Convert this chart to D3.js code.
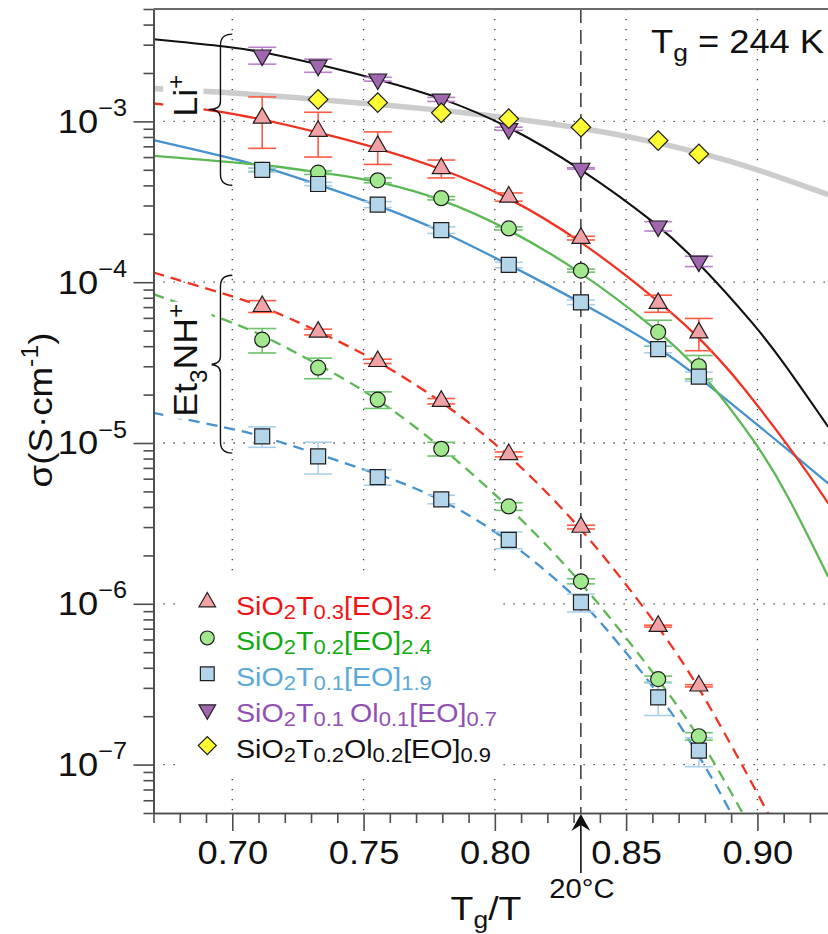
<!DOCTYPE html>
<html>
<head>
<meta charset="utf-8">
<script src="https://cdn.jsdelivr.net/npm/d3@7/dist/d3.min.js"></script>
<style>
  html, body { margin: 0; padding: 0; background: #fff; }
  svg { display: block; }
  text { font-family: "Liberation Sans", Arial, Helvetica, sans-serif; fill: #111; white-space: pre; }
</style>
</head>
<body>
<svg id="chart" width="828" height="934"></svg>
<script>
// ---------------- data ----------------
const Tg = 244;           // glass transition temperature, K
const roomT = 273 + 20;   // 20 °C reference, K

// measurement temperatures expressed as Tg/T (70 … 5 °C)
const tgOverT = [0.7114, 0.7327, 0.7554, 0.7796, 0.8053, 0.8328, 0.8622, 0.8777];

// Li+ conducting hybrids, σ in S/cm
const liT3    = [1.05e-3, 8.7e-4, 7.0e-4, 5.1e-4, 3.39e-4, 1.88e-4, 7.4e-5, 4.85e-5];
const liT3Err = [3.7e-4, 2.7e-4, 1.6e-4, 6.5e-5, 2.0e-5, 5e-6, 9e-6, 1.1e-5];
const liT2    = [5.0e-4, 4.8e-4, 4.3e-4, 3.33e-4, 2.16e-4, 1.18e-4, 4.9e-5, 3.0e-5];
const liT2Err = [1.2e-5, 1.2e-5, 1.5e-5, 8e-6, 5e-6, 2.5e-6, 9e-6, 5e-6];
const liT1    = [4.99e-4, 4.08e-4, 3.04e-4, 2.11e-4, 1.28e-4, 7.5e-5, 3.84e-5, 2.59e-5];
const liT1Err = [1.5e-5, 1e-5, 1.3e-5, 1e-5, 5e-6, 2.5e-6, 2e-6, 1.7e-6];
const liOl1    = [2.58e-3, 2.23e-3, 1.83e-3, 1.37e-3, 9.0e-4, 5.1e-4, 2.23e-4, 1.35e-4];
const liOl1Err = [3.1e-4, 2.1e-4, 5e-5, 4e-5, 2e-5, 5e-6, 1.5e-5, 1e-5];
const liOl2    = [null, 1.37e-3, 1.31e-3, 1.13e-3, 1.04e-3, 9.2e-4, 7.6e-4, 6.28e-4];

// Et3NH+ conducting hybrids, σ in S/cm
const etT3    = [7.08e-5, 4.9e-5, 3.22e-5, 1.82e-5, 8.5e-6, 3.0e-6, 7.26e-7, 3.09e-7];
const etT3Err = [6e-6, 2e-6, 1e-6, 7e-7, 3e-7, 8e-8, 1e-8, 5e-9];
const etT2    = [4.39e-5, 2.94e-5, 1.86e-5, 9.2e-6, 4.03e-6, 1.38e-6, 3.4e-7, 1.5e-7];
const etT2Err = [7.6e-6, 4.3e-6, 2.2e-6, 9e-7, 2.2e-7, 5e-8, 1.5e-8, 8e-9];
const etT1    = [1.10e-5, 8.26e-6, 6.14e-6, 4.46e-6, 2.5e-6, 1.02e-6, 2.62e-7, 1.22e-7];
const etT1Err = [1.6e-6, 1.85e-6, 6.8e-7, 2.7e-7, 3e-7, 1.3e-7, 6e-8, 2.5e-8];

// fitted VTF curves, [Tg/T, σ]
const fitOl1 = [[0.67,3.244e-3],[0.70,2.905e-3],[0.7116,2.705e-3],[0.7372,2.182e-3],[0.7554,1.83e-3],[0.7795,1.414e-3],[0.805,9.47e-4],[0.8328,5.12e-4],[0.8621,2.294e-4],[0.8777,1.332e-4],[0.8998,5.25e-5],[0.9094,3.27e-5],[0.927,1.259e-5]];
const fitOl2 = [[0.67,1.60e-3],[0.70,1.51e-3],[0.73,1.38e-3],[0.76,1.26e-3],[0.79,1.13e-3],[0.82,9.8e-4],[0.85,8.2e-4],[0.88,6.3e-4],[0.90,5.05e-4],[0.927,3.5e-4]];
const fitLiT3 = [[0.67,1.292e-3],[0.70,1.146e-3],[0.7372,8.21e-4],[0.7555,6.81e-4],[0.7795,5.12e-4],[0.805,3.426e-4],[0.8328,1.825e-4],[0.8621,7.73e-5],[0.8777,4.55e-5],[0.8857,3.27e-5],[0.8927,2.457e-5],[0.9151,8.2e-6],[0.927,4.21e-6]];
const fitLiT2 = [[0.67,6.1e-4],[0.70,5.58e-4],[0.7116,5.38e-4],[0.7372,4.74e-4],[0.7555,4.25e-4],[0.7795,3.33e-4],[0.805,2.166e-4],[0.8328,1.171e-4],[0.8621,5.03e-5],[0.8777,2.96e-5],[0.8999,9.93e-6],[0.9111,4.94e-6],[0.927,1.47e-6]];
const fitLiT1 = [[0.67,7.64e-4],[0.70,5.90e-4],[0.7116,5.26e-4],[0.7372,3.825e-4],[0.7555,3.012e-4],[0.7795,2.105e-4],[0.805,1.294e-4],[0.8328,7.51e-5],[0.8621,4.0e-5],[0.8777,2.577e-5],[0.9149,8.2e-6],[0.927,5.6e-6]];
const fitEtT3 = [[0.67,1.149e-4],[0.70,8.18e-5],[0.7116,7.09e-5],[0.7328,4.96e-5],[0.7554,3.25e-5],[0.7795,1.845e-5],[0.8051,8.64e-6],[0.8328,3.04e-6],[0.8621,7.36e-7],[0.8777,3.12e-7],[0.9042,4.96e-8],[0.9125,2.73e-8]];
const fitEtT2 = [[0.67,8.42e-5],[0.70,5.64e-5],[0.7116,4.68e-5],[0.7328,3.09e-5],[0.7554,1.9e-5],[0.7795,9.55e-6],[0.8051,4.10e-6],[0.8328,1.402e-6],[0.8621,3.45e-7],[0.8777,1.52e-7],[0.8946,4.96e-8],[0.9029,2.73e-8]];
const fitEtT1 = [[0.67,1.539e-5],[0.70,1.227e-5],[0.7116,1.102e-5],[0.7328,8.52e-6],[0.7554,6.40e-6],[0.7640,5.73e-6],[0.7830,4.21e-6],[0.8059,2.49e-6],[0.8332,1.027e-6],[0.8414,7.36e-7],[0.8624,2.83e-7],[0.8778,1.145e-7],[0.8903,4.96e-8],[0.8980,2.73e-8]];

// axis ticks
const xMajorTicks = [0.70, 0.75, 0.80, 0.85, 0.90];
const yMajorTicks = [1e-7, 1e-6, 1e-5, 1e-4, 1e-3];

// ---------------- styles ----------------
const C = {
  red:    { line: "#ee3322", fill: "#f2a2a5", err: "#ff5a44", text: "#f01414" },
  green:  { line: "#5cb854", fill: "#a3e88f", err: "#6cc46a", text: "#14aa14" },
  blue:   { line: "#4592cf", fill: "#b3d5ea", err: "#a9d0ea", text: "#5aa9d6" },
  purple: { line: "#111111", fill: "#a066b0", err: "#bb80cc", text: "#9150b4" },
  yellow: { line: "#cccccc", fill: "#ffff33", err: "#cccccc", text: "#111111" }
};
const SYM = {
  up:      { type: d3.symbolTriangle, size: 140, rot: 0 },
  circle:  { type: d3.symbolCircle,   size: 177, rot: 0 },
  square:  { type: d3.symbolSquare,   size: 225, rot: 0 },
  down:    { type: d3.symbolTriangle, size: 140, rot: 180 },
  diamond: { type: d3.symbolSquare,   size: 190, rot: 45 }
};

// ---------------- layout ----------------
const svg = d3.select("#chart");
const plot = { left: 153.5, right: 828.3, top: 9, bottom: 813 };
const x = d3.scaleLinear().domain([0.67, 0.927]).range([plot.left, plot.right]);
const y = d3.scaleLog().domain([5e-8, 5e-3]).range([plot.bottom, plot.top]);

svg.append("defs").append("clipPath").attr("id", "plotClip")
  .append("rect").attr("x", plot.left).attr("y", plot.top)
  .attr("width", plot.right - plot.left).attr("height", plot.bottom - plot.top);

// dotted grid
const grid = svg.append("g").attr("stroke", "#3a3a3a").attr("stroke-width", 1.3)
  .attr("stroke-dasharray", "1.3,8.7");
grid.selectAll("line.gx").data(xMajorTicks).join("line").attr("class", "gx")
  .attr("x1", d => x(d)).attr("x2", d => x(d)).attr("y1", plot.top).attr("y2", plot.bottom);
grid.selectAll("line.gy").data(yMajorTicks).join("line").attr("class", "gy")
  .attr("y1", d => y(d)).attr("y2", d => y(d)).attr("x1", plot.left).attr("x2", plot.right);

// legend background (hides the grid behind it)
const legend = { x: 176, y: 576, w: 322, h: 196, rowTop: 602, rowStep: 35.9, markX: 207.3, textX: 236 };
svg.append("rect").attr("x", legend.x).attr("y", legend.y).attr("width", legend.w).attr("height", legend.h)
  .attr("fill", "#fff");

// fitted curves
const curveG = svg.append("g").attr("clip-path", "url(#plotClip)").attr("fill", "none");
const lineGen = d3.line().x(d => x(d[0])).y(d => y(d[1])).curve(d3.curveBasis);
const curves = [
  { data: fitOl2, color: C.yellow.line, width: 5.5, dash: null },
  { data: fitEtT1, color: C.blue.line, width: 2.3, dash: "11,7" },
  { data: fitEtT2, color: C.green.line, width: 2.3, dash: "11,7" },
  { data: fitEtT3, color: C.red.line, width: 2.3, dash: "11,7" },
  { data: fitLiT1, color: C.blue.line, width: 2.3, dash: null },
  { data: fitLiT2, color: C.green.line, width: 2.3, dash: null },
  { data: fitLiT3, color: C.red.line, width: 2.3, dash: null },
  { data: fitOl1, color: C.purple.line, width: 2.1, dash: null }
];
curveG.selectAll("path").data(curves).join("path")
  .attr("d", d => lineGen(d.data)).attr("stroke", d => d.color)
  .attr("stroke-width", d => d.width).attr("stroke-dasharray", d => d.dash);

// 20 °C reference line
const refX = Tg / roomT;
svg.append("line").attr("x1", x(refX)).attr("x2", x(refX)).attr("y1", plot.top).attr("y2", plot.bottom)
  .attr("stroke", "#1a1a1a").attr("stroke-width", 1.3).attr("stroke-dasharray", "14,7");

// helper: rich text with sub/superscripts
function rich(textSel, parts, size, smallSize, subDy, supDy) {
  let shift = 0;
  parts.forEach(([s, kind]) => {
    const target = kind === "sub" ? subDy : kind === "sup" ? supDy : 0;
    textSel.append("tspan").attr("dy", target - shift)
      .attr("font-size", kind ? smallSize : size).text(s);
    shift = target;
  });
}

// curly braces grouping the two cation families
const braces = [
  { top: 3.49e-3, mid: 1.186e-3, bot: 4.01e-4, label: [["Li"], ["+", "sup"]], at: [196.7, 116.7] },
  { top: 1.104e-4, mid: 3.08e-5, bot: 8.65e-6, label: [["Et"], ["3", "sub"], ["NH"], ["+", "sup"]], at: [196.7, 416.7] }
];
const braceTip = 0.70, braceSpine = 0.6955, bracePoint = 0.6910;
const braceG = svg.append("g");
braces.forEach(b => {
  const xt = x(braceTip), xs = x(braceSpine), xp = x(bracePoint);
  const yT = y(b.top), yM = y(b.mid), yB = y(b.bot);
  const p = `M${xt},${yT} Q${xs},${yT} ${xs},${yT + 11} L${xs},${yM - 8} Q${xs},${yM} ${xp},${yM}` +
            ` Q${xs},${yM} ${xs},${yM + 8} L${xs},${yB - 11} Q${xs},${yB} ${xt},${yB}`;
  braceG.append("path").attr("d", p).attr("fill", "none").attr("stroke", "#111").attr("stroke-width", 1.4);
  const g = braceG.append("g").attr("transform", `translate(${b.at[0]},${b.at[1]}) rotate(-90) scale(1.05,1)`);
  const bg = g.append("rect").attr("fill", "#fff");
  const t = g.append("text").attr("x", 0).attr("y", 0);
  rich(t, b.label, 34, 23, 10, -13);
  const bb = t.node().getBBox();
  bg.attr("x", bb.x - 2).attr("y", bb.y).attr("width", bb.width + 4).attr("height", bb.height);
});

// series (points + error bars)
const series = [
  { v: liT3, e: liT3Err, c: C.red, s: SYM.up },
  { v: liT2, e: liT2Err, c: C.green, s: SYM.circle },
  { v: liT1, e: liT1Err, c: C.blue, s: SYM.square },
  { v: etT3, e: etT3Err, c: C.red, s: SYM.up },
  { v: etT2, e: etT2Err, c: C.green, s: SYM.circle },
  { v: etT1, e: etT1Err, c: C.blue, s: SYM.square },
  { v: liOl1, e: liOl1Err, c: C.purple, s: SYM.down },
  { v: liOl2, e: null, c: C.yellow, s: SYM.diamond }
];
const pts = s => s.v.map((v, i) => ({ t: tgOverT[i], v, e: s.e ? s.e[i] : 0 })).filter(d => d.v != null);

const errG = svg.append("g").attr("fill", "none").attr("stroke-width", 1.6);
series.filter(s => s.e).forEach(s => {
  const g = errG.append("g").attr("stroke", s.c.err);
  const d = pts(s);
  const cap = 14;
  g.selectAll("line.v").data(d).join("line").attr("class", "v")
    .attr("x1", p => x(p.t)).attr("x2", p => x(p.t))
    .attr("y1", p => y(p.v + p.e)).attr("y2", p => y(Math.max(p.v - p.e, 1e-12)));
  g.selectAll("line.hi").data(d).join("line").attr("class", "hi")
    .attr("x1", p => x(p.t) - cap).attr("x2", p => x(p.t) + cap)
    .attr("y1", p => y(p.v + p.e)).attr("y2", p => y(p.v + p.e));
  g.selectAll("line.lo").data(d).join("line").attr("class", "lo")
    .attr("x1", p => x(p.t) - cap).attr("x2", p => x(p.t) + cap)
    .attr("y1", p => y(p.v - p.e)).attr("y2", p => y(p.v - p.e));
});

const markG = svg.append("g");
series.forEach(s => {
  const sym = d3.symbol().type(s.s.type).size(s.s.size);
  markG.append("g").selectAll("path").data(pts(s)).join("path")
    .attr("d", sym)
    .attr("transform", p => `translate(${x(p.t)},${y(p.v)}) rotate(${s.s.rot})`)
    .attr("fill", s.c.fill).attr("stroke", "#1e1e1e").attr("stroke-width", 1.2);
});

// axes
const axisColor = "#4d4d4d";
function styleAxis(g) {
  g.select(".domain").attr("stroke", axisColor).attr("stroke-width", 1.7);
  g.selectAll(".tick line").attr("stroke", axisColor).attr("stroke-width", 1.6);
}
const yMinorTicks = [];
for (let e = -8; e <= -3; e++) for (let k = 2; k <= 9; k++) {
  const v = k * Math.pow(10, e);
  if (v >= 5e-8 && v <= 5e-3) yMinorTicks.push(v);
}
const xMinorTicks = d3.range(67, 93).filter(d => d % 5 !== 0).map(d => d / 100);

svg.append("g").attr("transform", `translate(${plot.left},0)`)
  .call(d3.axisLeft(y).tickValues(yMinorTicks).tickSize(10).tickSizeOuter(0).tickFormat(""))
  .call(styleAxis);
svg.append("g").attr("transform", `translate(${plot.left},0)`)
  .call(d3.axisLeft(y).tickValues(yMajorTicks).tickSize(20).tickSizeOuter(0).tickFormat(""))
  .call(styleAxis);
svg.append("g").attr("transform", `translate(0,${plot.bottom})`)
  .call(d3.axisBottom(x).tickValues(xMinorTicks).tickSize(10).tickSizeOuter(0).tickFormat(""))
  .call(styleAxis);
const xAx = svg.append("g").attr("transform", `translate(0,${plot.bottom})`)
  .call(d3.axisBottom(x).tickValues(xMajorTicks).tickSize(18).tickSizeOuter(0)
    .tickPadding(10).tickFormat(d3.format(".2f")))
  .call(styleAxis);
xAx.selectAll(".tick text").attr("font-size", 33).attr("fill", "#111")
  .attr("font-family", "Liberation Sans, Arial, sans-serif").attr("transform", "scale(1.1,1)");

// top frame
svg.append("line").attr("x1", plot.left).attr("x2", plot.right).attr("y1", plot.top).attr("y2", plot.top)
  .attr("stroke", "#6a6a6a").attr("stroke-width", 2.2);

// y tick labels 10^n
const yLab = svg.append("g").selectAll("g").data(yMajorTicks).join("g")
  .attr("transform", d => `translate(127,${y(d) + 11.5}) scale(1.1,1)`);
const yText = yLab.append("text").attr("text-anchor", "end");
yText.append("tspan").attr("font-size", 33).text("10");
yText.append("tspan").attr("font-size", 23).attr("dy", -17).text(d => "\u2212" + (-Math.round(Math.log10(d))));

// axis titles
const yTitle = svg.append("g").attr("transform", "translate(52,410) rotate(-90) scale(1.08,1)")
  .append("text").attr("text-anchor", "middle");
rich(yTitle, [["\u03c3(S\u00b7cm"], ["-1", "sup"], [")"]], 34, 23, 0, -14);

const xTitle = svg.append("g").attr("transform", "translate(486,920) scale(1.1,1)")
  .append("text").attr("text-anchor", "middle");
rich(xTitle, [["T"], ["g", "sub"], ["/T"]], 34, 24, 8, 0);

// Tg annotation
const tgText = svg.append("g").attr("transform", "translate(651,53) scale(1.1,1)").append("text");
rich(tgText, [["T"], ["g", "sub"], [" = 244 K"]], 33, 24, 8, 0);

// 20 °C arrow below the axis
const ax0 = x(refX);
svg.append("line").attr("x1", ax0).attr("x2", ax0).attr("y1", 873).attr("y2", 825)
  .attr("stroke", "#111").attr("stroke-width", 1.6);
svg.append("path").attr("d", `M${ax0},814 L${ax0 + 9.5},831 L${ax0},825 L${ax0 - 9.5},831 Z`).attr("fill", "#111");
svg.append("g").attr("transform", `translate(${ax0 + 1},898) scale(1.08,1)`)
  .append("text").attr("text-anchor", "middle").attr("font-size", 27).text("20\u00b0C");

// legend
const legendRows = [
  { c: C.red, s: SYM.up, parts: [["SiO"], ["2", "sub"], ["T"], ["0.3", "sub"], ["[EO]"], ["3.2", "sub"]] },
  { c: C.green, s: SYM.circle, parts: [["SiO"], ["2", "sub"], ["T"], ["0.2", "sub"], ["[EO]"], ["2.4", "sub"]] },
  { c: C.blue, s: SYM.square, parts: [["SiO"], ["2", "sub"], ["T"], ["0.1", "sub"], ["[EO]"], ["1.9", "sub"]] },
  { c: C.purple, s: SYM.down, parts: [["SiO"], ["2", "sub"], ["T"], ["0.1 ", "sub"], ["Ol"], ["0.1", "sub"], ["[EO]"], ["0.7", "sub"]] },
  { c: C.yellow, s: SYM.diamond, parts: [["SiO"], ["2", "sub"], ["T"], ["0.2", "sub"], ["Ol"], ["0.2", "sub"], ["[EO]"], ["0.9", "sub"]] }
];
legendRows.forEach((r, i) => {
  const cy = legend.rowTop + i * legend.rowStep;
  svg.append("path").attr("d", d3.symbol().type(r.s.type).size(r.s.size * 0.85)())
    .attr("transform", `translate(${legend.markX},${cy}) rotate(${r.s.rot})`)
    .attr("fill", r.c.fill).attr("stroke", "#1e1e1e").attr("stroke-width", 1.2);
  const t = svg.append("g").attr("transform", `translate(${legend.textX},${cy + 12.5}) scale(1.1,1)`)
    .append("text").attr("fill", r.c.text).style("fill", r.c.text);
  rich(t, r.parts, 26, 20, 4, 0);
});
</script>
</body>
</html>
